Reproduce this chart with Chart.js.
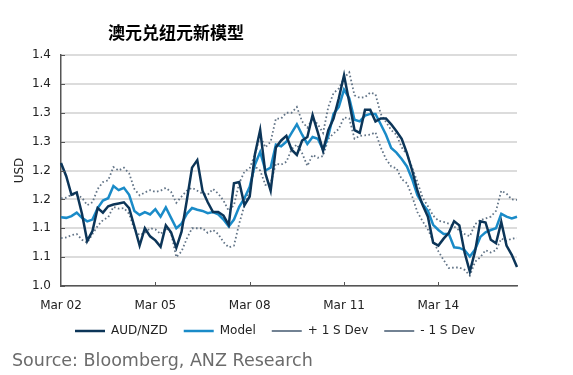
<!DOCTYPE html>
<html>
<head>
<meta charset="utf-8">
<script src="https://cdn.jsdelivr.net/npm/chart.js@4.4.1/dist/chart.umd.min.js"></script>
<style>
  body { margin: 0; background: #fff; }
  #wrap { position: relative; width: 573px; height: 375px; }
  #titulo { position: absolute; left: 108px; top: 19px; font: bold 17px "Noto Sans CJK SC"; color: #000; }
  #fuente { position: absolute; left: 12px; top: 350px; font: 17.5px "DejaVu Sans"; color: #6b6b6b; }
</style>
</head>
<body>
<div id="wrap">
  <canvas id="myChart" width="573" height="375"></canvas>
  <div id="titulo">澳元兑纽元新模型</div>
  <div id="fuente">Source: Bloomberg, ANZ Research</div>
</div>
<script>
// bimonthly points, Mar 02 .. Sep 16
const meses = ["Jan","Feb","Mar","Apr","May","Jun","Jul","Aug","Sep","Oct","Nov","Dec"];
const categorias = [];
for (let i = 0; i < 88; i++) {
    let m = 2 + i * 2;
    categorias.push(meses[m % 12] + " " + String(2002 + Math.floor(m / 12)).slice(2));
}
const yTickLabels = ["1.0","1.1","1.1","1.2","1.2","1.3","1.3","1.4","1.4"];

const audNzd = [
    1.213, 1.19, 1.158, 1.162, 1.125, 1.078, 1.095, 1.135, 1.127, 1.138,
    1.141, 1.143, 1.145, 1.135, 1.103, 1.07, 1.10, 1.086, 1.079, 1.068,
    1.105, 1.093, 1.066, 1.094, 1.148, 1.205, 1.218, 1.165, 1.145, 1.128,
    1.128, 1.122, 1.106, 1.178, 1.18, 1.14, 1.155, 1.228, 1.27, 1.195,
    1.165, 1.24, 1.252, 1.26, 1.236, 1.227, 1.252, 1.258, 1.296, 1.266,
    1.234, 1.27, 1.29, 1.325, 1.365, 1.318, 1.27, 1.265, 1.305, 1.305,
    1.285, 1.29, 1.29, 1.28, 1.268, 1.255, 1.23, 1.20, 1.165, 1.14,
    1.12, 1.075, 1.07, 1.082, 1.092, 1.112, 1.105, 1.058, 1.025, 1.06,
    1.112, 1.11, 1.08, 1.074, 1.111, 1.07, 1.054, 1.033
];
const modelo = [
    1.119, 1.118, 1.121, 1.127, 1.118, 1.112, 1.115, 1.135, 1.148, 1.152,
    1.173, 1.166, 1.17, 1.158, 1.13, 1.123, 1.128, 1.124, 1.133, 1.12,
    1.136, 1.118, 1.10, 1.108, 1.125, 1.135, 1.132, 1.13, 1.126, 1.128,
    1.124, 1.115, 1.103, 1.115, 1.137, 1.152, 1.172, 1.21, 1.232, 1.20,
    1.205, 1.245, 1.242, 1.25, 1.265, 1.28, 1.262, 1.246, 1.258, 1.255,
    1.236, 1.26, 1.298, 1.31, 1.34, 1.325, 1.288, 1.285, 1.295, 1.298,
    1.298, 1.28, 1.262, 1.239, 1.231, 1.22, 1.207, 1.185, 1.157, 1.142,
    1.13, 1.106, 1.097, 1.09, 1.09, 1.067, 1.066, 1.062, 1.051, 1.063,
    1.085, 1.093, 1.097, 1.10, 1.125, 1.12, 1.117, 1.12
];
const masDev = [
    1.152, 1.153, 1.158, 1.158, 1.153, 1.14, 1.145, 1.168, 1.18, 1.183,
    1.206, 1.20, 1.205, 1.195, 1.168, 1.157, 1.162, 1.166, 1.163, 1.165,
    1.17, 1.163, 1.144, 1.155, 1.165, 1.17, 1.165, 1.16, 1.158, 1.168,
    1.16, 1.148, 1.13, 1.14, 1.178, 1.198, 1.204, 1.228, 1.26, 1.24,
    1.25, 1.29, 1.29, 1.30, 1.30, 1.31, 1.285, 1.274, 1.29, 1.28,
    1.265, 1.31, 1.334, 1.342, 1.36, 1.37, 1.33, 1.326, 1.327, 1.335,
    1.332, 1.298, 1.284, 1.27, 1.262, 1.24, 1.228, 1.205, 1.18, 1.153,
    1.138, 1.122, 1.113, 1.111, 1.108, 1.103, 1.096, 1.09, 1.086, 1.107,
    1.114, 1.117, 1.12, 1.13, 1.165, 1.16, 1.15, 1.149
];
const menosDev = [
    1.083, 1.084, 1.088, 1.09, 1.08, 1.075, 1.09, 1.104, 1.114, 1.119,
    1.137, 1.134, 1.135, 1.125, 1.098, 1.088, 1.092, 1.10, 1.098, 1.09,
    1.10, 1.092, 1.05, 1.06, 1.082, 1.10, 1.10, 1.10, 1.092, 1.097,
    1.09, 1.076, 1.067, 1.07, 1.108, 1.14, 1.17, 1.207, 1.20, 1.175,
    1.178, 1.212, 1.21, 1.215, 1.237, 1.245, 1.23, 1.208, 1.227, 1.222,
    1.225, 1.255, 1.264, 1.272, 1.292, 1.29, 1.255, 1.26, 1.261, 1.262,
    1.266, 1.24, 1.22, 1.207, 1.204, 1.185, 1.178, 1.155, 1.128, 1.112,
    1.098, 1.078, 1.06, 1.045, 1.031, 1.032, 1.032, 1.028, 1.018, 1.042,
    1.05, 1.062, 1.058, 1.062, 1.082, 1.078, 1.082, 1.083
];

// little ticks pointing into the plot
const ticksAdentro = {
    id: "ticksAdentro",
    afterDraw(chart) {
        let ctx = chart.ctx;
        let area = chart.chartArea;
        let x = chart.scales.x, y = chart.scales.y;
        ctx.save();
        ctx.strokeStyle = "#555";
        ctx.lineWidth = 1;
        y.ticks.forEach((t) => {
            let py = Math.round(y.getPixelForValue(t.value)) + 0.5;
            ctx.beginPath();
            ctx.moveTo(area.left, py);
            ctx.lineTo(area.left + 4, py);
            ctx.stroke();
        });
        x.ticks.forEach((t, i) => {
            if (i % 18 === 0 && i > 0) {
                let px = Math.round(x.getPixelForTick(i)) + 0.5;
                ctx.beginPath();
                ctx.moveTo(px, area.bottom);
                ctx.lineTo(px, area.bottom - 4);
                ctx.stroke();
            }
        });
        ctx.restore();
    }
};

Chart.defaults.font.family = "DejaVu Sans";
Chart.defaults.font.size = 12;
Chart.defaults.color = "#222";

let ctx = document.querySelector("#myChart");
let datasets = [
    { label: "AUD/NZD", data: audNzd, borderColor: "#0c3558", borderWidth: 2.5 },
    { label: "Model", data: modelo, borderColor: "#1a8bc8", borderWidth: 2.5 },
    { label: "+ 1 S Dev", data: masDev, borderColor: "#627487", borderWidth: 1.8, borderDash: [1.6, 2.4] },
    { label: "- 1 S Dev", data: menosDev, borderColor: "#627487", borderWidth: 1.8, borderDash: [1.6, 2.4] }
].map((d) => Object.assign(d, { pointRadius: 0, pointStyle: "line", tension: 0, fill: false }));

let myChart = new Chart(ctx, {
    type: "line",
    data: { labels: categorias, datasets },
    plugins: [ticksAdentro],
    options: {
        responsive: false,
        animation: false,
        layout: { padding: { top: 55, right: 23, bottom: 28, left: 0 } },
        plugins: {
            tooltip: { enabled: false },
            legend: {
                position: "bottom",
                labels: { usePointStyle: true, pointStyleWidth: 30, padding: 16, color: "#222" }
            }
        },
        scales: {
            x: {
                afterFit: (s) => { s.height = 23; },
                grid: { display: false },
                border: { color: "#555", width: 1.5 },
                ticks: {
                    autoSkip: false, maxRotation: 0, padding: 5,
                    callback: (v, i) => (i % 18 === 0 ? categorias[i] : "")
                }
            },
            y: {
                min: 1.0, max: 1.4,
                afterFit: (s) => { s.width = 61; },
                grid: { color: "#dcdcdc", lineWidth: 2, drawTicks: false },
                border: { color: "#555", width: 1.5 },
                title: { display: true, text: "USD", padding: { top: 13, bottom: 0 } },
                ticks: {
                    stepSize: 0.05, padding: 10,
                    callback: (v) => yTickLabels[Math.round((v - 1) / 0.05)]
                }
            },
            y2: {
                position: "right",
                afterFit: (s) => { s.width = 33; },
                grid: { display: false },
                border: { display: false },
                ticks: { display: false }
            }
        }
    }
});
</script>
</body>
</html>
